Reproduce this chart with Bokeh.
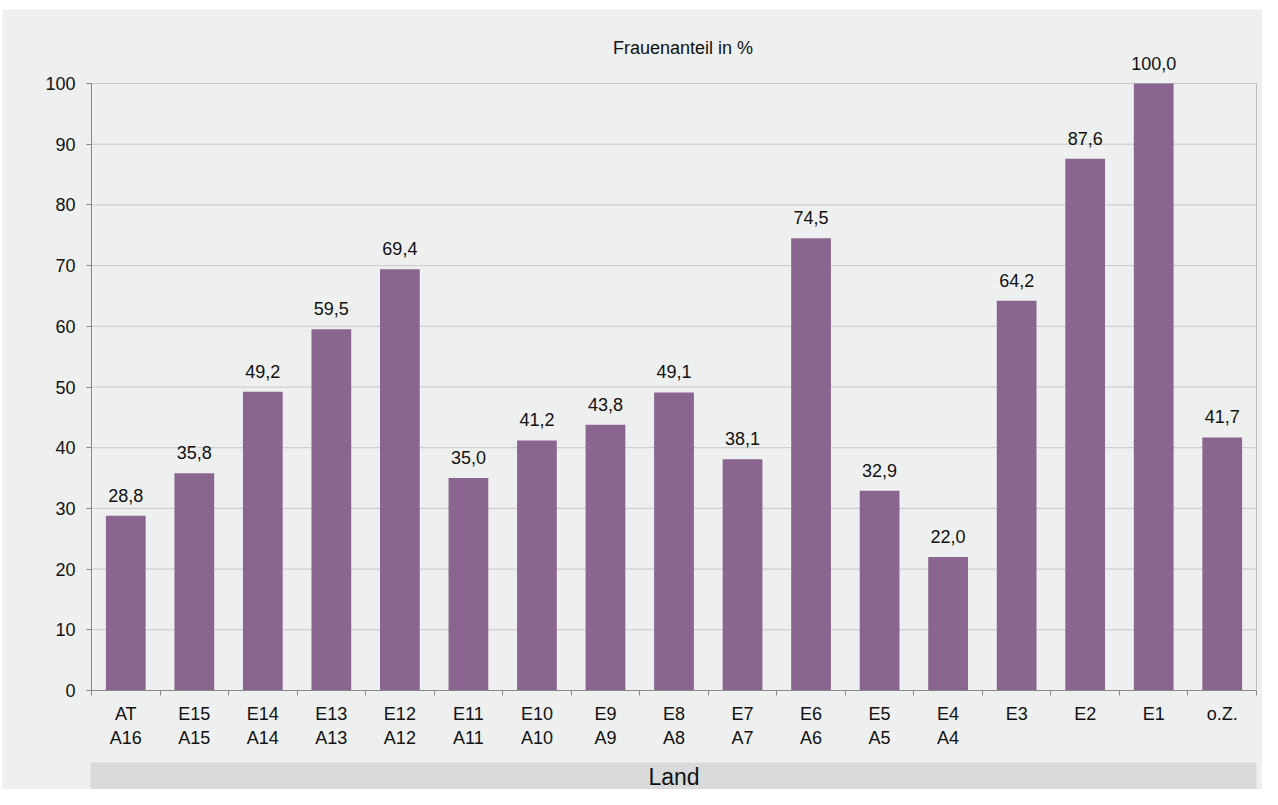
from bokeh.plotting import figure
from bokeh.models import ColumnDataSource, FixedTicker, LabelSet, Label, Range1d
from bokeh.core.properties import value
from bokeh.embed import file_html
from bokeh.resources import INLINE

categories = ["AT\nA16", "E15\nA15", "E14\nA14", "E13\nA13", "E12\nA12", "E11\nA11",
              "E10\nA10", "E9\nA9", "E8\nA8", "E7\nA7", "E6\nA6", "E5\nA5", "E4\nA4",
              "E3", "E2", "E1", "o.Z."]
frauenanteil = [28.8, 35.8, 49.2, 59.5, 69.4, 35.0, 41.2, 43.8, 49.1, 38.1, 74.5,
                32.9, 22.0, 64.2, 87.6, 100.0, 41.7]
y_ticks = list(range(0, 101, 10))
title_text = "Frauenanteil in %"
band_text = "Land"

FONT = "Liberation Sans"
BG = "#eeefef"
TXT = "#111111"
AX = "#888888"

# layout (pixels on the canvas)
W, H = 1262, 789
FL, FT = 2, 9                    # frame origin (white strip around like the reference)
PL, PR, PT, PB = 91, 1256, 83, 690   # plot area of the chart
BAND_TOP = 762

n = len(categories)
Y_MAX = 100
sx = (PR - PL) / n
sy = (PB - PT) / Y_MAX
x_start, x_end = (FL - PL) / sx, (W - PL) / sx
y_start, y_end = (PB - H) / sy, (PB - FT) / sy

centers = [i + 0.5 for i in range(n)]
labels = [f"{v:.1f}".replace(".", ",") for v in frauenanteil]
src = ColumnDataSource(dict(x=centers, v=frauenanteil, lbl=labels))

p = figure(x_range=Range1d(x_start, x_end), y_range=Range1d(y_start, y_end),
           width=W, height=H, min_border_left=FL, min_border_top=FT,
           min_border_right=0, min_border_bottom=0,
           output_backend="svg", toolbar_location=None)
p.background_fill_color = BG
p.border_fill_color = "white"
p.outline_line_color = None
p.xgrid.visible = False
p.ygrid.visible = False

# category band at the bottom
p.quad(left=[(PL - 1 - PL) / sx], right=[n], top=[(PB - BAND_TOP) / sy], bottom=[y_start],
       fill_color="#d9dadc", line_color=None)

# grid lines and right border of the plot area
p.segment(x0=[0] * len(y_ticks), x1=[n] * len(y_ticks), y0=y_ticks, y1=y_ticks,
          line_color="#c8c8c8", line_width=1)
p.segment(x0=[n], x1=[n], y0=[0], y1=[Y_MAX], line_color="#bdbdbd", line_width=1)

p.vbar(x="x", top="v", width=0.58, source=src, fill_color="#8a6590", line_color=None)

# x axis
xa = p.xaxis[0]
xa.fixed_location = 0
xa.bounds = (0, n)
xa.ticker = FixedTicker(ticks=centers, minor_ticks=list(range(n + 1)))
xa.major_label_overrides = {c: lab for c, lab in zip(centers, categories)}
xa.major_tick_out = 0
xa.major_tick_in = 0
xa.minor_tick_out = 5
xa.minor_tick_in = 0
xa.minor_tick_line_color = AX
xa.axis_line_color = AX
xa.major_label_text_font = FONT
xa.major_label_text_font_size = "18px"
xa.major_label_text_color = TXT
xa.major_label_standoff = 8

# y axis
ya = p.yaxis[0]
ya.fixed_location = 0
ya.bounds = (0, Y_MAX)
ya.ticker = FixedTicker(ticks=y_ticks)
ya.major_tick_out = 5
ya.major_tick_in = 0
ya.minor_tick_line_color = None
ya.major_tick_line_color = AX
ya.axis_line_color = AX
ya.major_label_text_font = FONT
ya.major_label_text_font_size = "18px"
ya.major_label_text_color = TXT
ya.major_label_standoff = 11

p.add_layout(LabelSet(x="x", y="v", text="lbl", source=src, y_offset=14,
                      text_align="center", text_baseline="alphabetic",
                      text_font=value(FONT), text_font_size="18px", text_color=TXT))

p.add_layout(Label(x=n / 2, y=Y_MAX, x_offset=9, y_offset=36, text=title_text,
                   text_align="center", text_baseline="alphabetic",
                   text_font=FONT, text_font_size="18px", text_color=TXT))

p.add_layout(Label(x=n / 2, y=0, y_offset=-86, text=band_text,
                   text_align="center", text_baseline="middle",
                   text_font=FONT, text_font_size="23px", text_color=TXT))

open("out.html", "w").write(file_html(p, INLINE))
